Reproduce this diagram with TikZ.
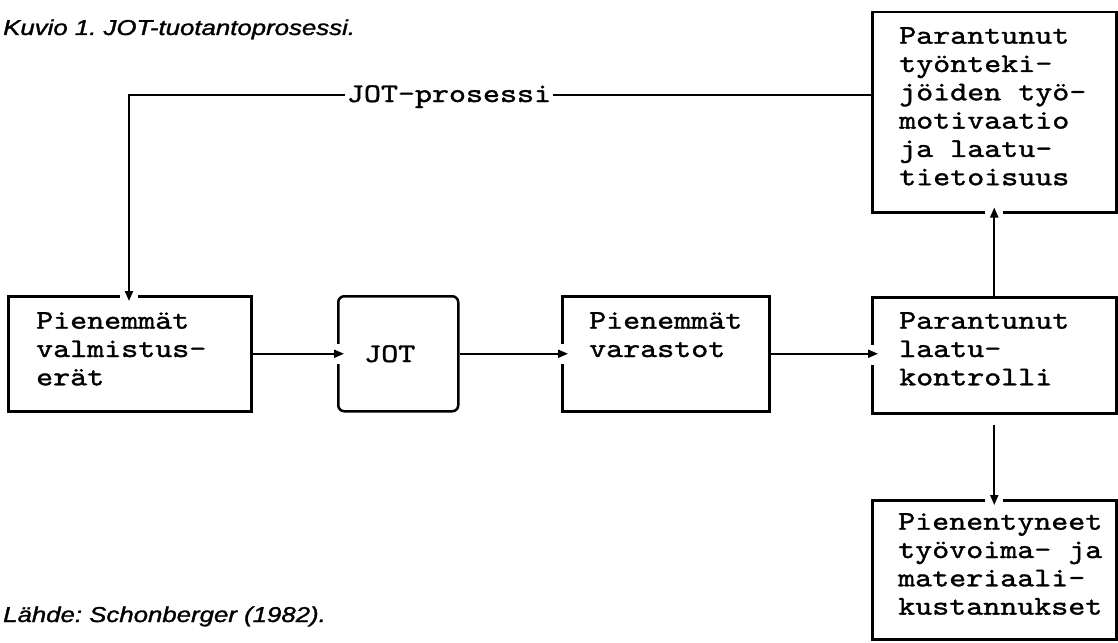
\documentclass[tikz,border=0pt]{standalone}
\usepackage{fontspec}
\usepackage{graphicx}
\usetikzlibrary{arrows.meta,calc}
\newfontfamily\boxfont{lmmono10-regular.otf}[FakeStretch=1.2,FakeBold=1.3]
\newfontfamily\capfont{Liberation Sans}[FakeBold=1.2]
\frenchspacing
\tikzset{
  box/.style={draw, line width=2.5pt, anchor=north west, inner sep=0pt},
  txt/.style={anchor=north west, inner sep=0pt, align=left,
    font=\boxfont\fontsize{27}{28.3}\selectfont, execute at begin node=\strut},
  lbl/.style={anchor=base, inner xsep=2pt, inner ysep=0pt, fill=white,
    font=\boxfont\fontsize{27}{28.3}\selectfont},
  conn/.style={line width=2pt, -{Triangle[length=10pt,width=8pt]}},
  edgegap/.style={white, line width=5pt},
  captxt/.style={anchor=base west, inner sep=0pt,
    font=\capfont\itshape\fontsize{21.5}{24}\selectfont},
}
\begin{document}
\begin{tikzpicture}[x=1pt,y=-1pt]
\useasboundingbox (0,0) rectangle (1118,642);

% boxes
\node[box, minimum width=243pt, minimum height=115pt] (bA) at (7,295) {};
\node[box, rounded corners=6pt, minimum width=120pt, minimum height=115pt] (bJ) at (337,295) {};
\node[box, minimum width=207pt, minimum height=115pt] (bV) at (561,295) {};
\node[box, minimum width=244pt, minimum height=116pt] (bL) at (871,296) {};
\node[box, minimum width=244pt, minimum height=200pt] (bT) at (871,11) {};
\node[box, minimum width=244pt, minimum height=139pt] (bB) at (871,499) {};

% texts
\node[txt] (tA) at (36,312) {Pienemmät\\valmistus-\\erät};
\node[txt] (tJ) at (364,342) {JOT};
\node[txt] (tV) at (589,312) {Pienemmät\\varastot};
\node[txt] (tL) at (899,312) {Parantunut\\laatu-\\kontrolli};
\node[txt] (tT) at (899,27) {Parantunut\\työnteki-\\jöiden työ-\\motivaatio\\ja laatu-\\tietoisuus};
\node[txt] (tB) at (898,513) {Pienentyneet\\työvoima- ja\\materiaali-\\kustannukset};

% JOT-prosessi feedback
\coordinate (jpc) at (129,95);
\draw[edgegap] ($(bA.north -| jpc)+(-9,0)$) -- ($(bA.north -| jpc)+(9,0)$);
\draw[conn] (bT.west |- jpc) -- (jpc) -- ($(bA.north -| jpc)+(0,6)$);
\node[lbl] (jpl) at (449,102) {JOT-prosessi};

% horizontal flow
\draw[edgegap] ($(bJ.west)+(0,-10)$) -- ($(bJ.west)+(0,10)$);
\draw[conn] (bA.east) -- ($(bJ.west |- bA.east)+(7,0)$);
\draw[edgegap] ($(bV.west)+(0,-10)$) -- ($(bV.west)+(0,10)$);
\draw[conn] (bJ.east) -- ($(bV.west |- bJ.east)+(7,0)$);
\draw[edgegap] ($(bL.west)+(0,-10)$) -- ($(bL.west)+(0,10)$);
\draw[conn] (bV.east) -- ($(bL.west |- bV.east)+(7,0)$);

% vertical flow
\draw[edgegap] ($(bT.south)+(-9,0)$) -- ($(bT.south)+(9,0)$);
\draw[conn] (bL.north) -- ($(bT.south)+(0,-6)$);
\draw[edgegap] ($(bB.north)+(-9,0)$) -- ($(bB.north)+(9,0)$);
\draw[conn] ($(bL.south)+(0,10)$) -- ($(bB.north)+(0,6)$);

% captions
\node[captxt] (title) at (3,35) {\scalebox{1.2}[1]{Kuvio 1. JOT-tuotantoprosessi.}};
\node[captxt] (src) at (3,622) {\scalebox{1.2}[1]{Lähde: Schonberger (1982).}};
\end{tikzpicture}
\end{document}
